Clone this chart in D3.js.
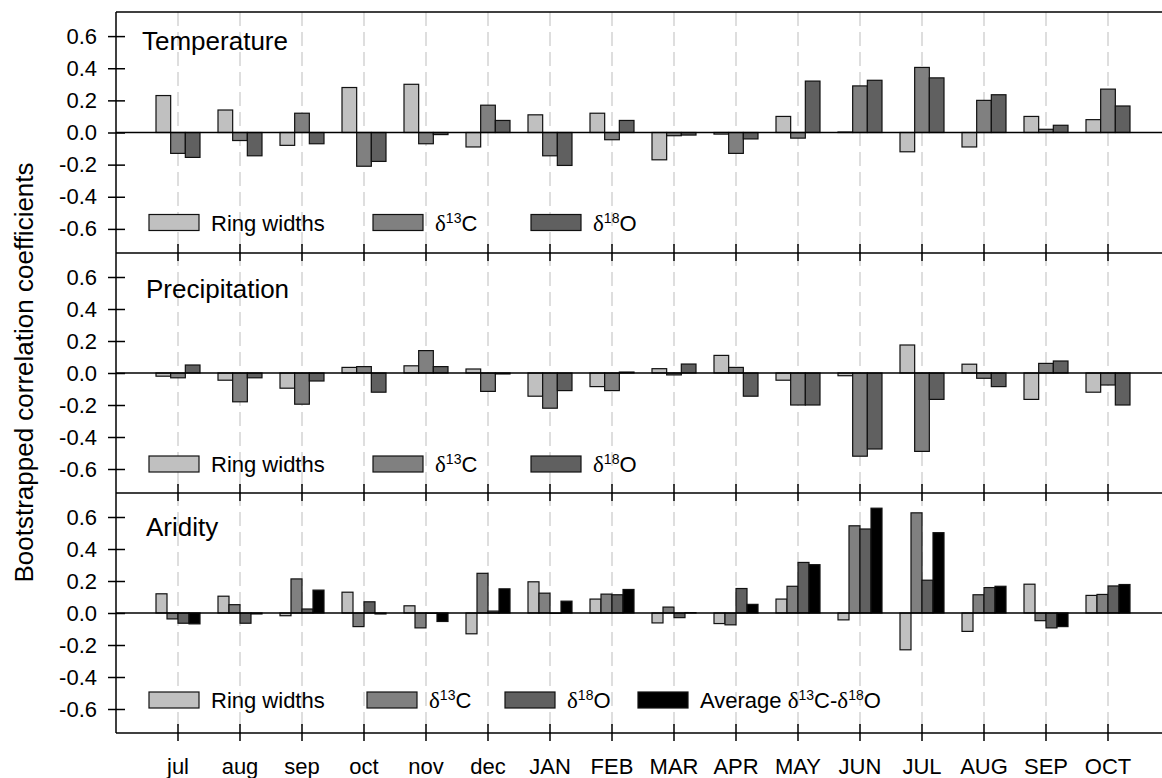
<!DOCTYPE html>
<html>
<head>
<meta charset="utf-8">
<script src="https://cdn.jsdelivr.net/npm/d3@7"></script>
<style>
  body { margin: 0; background: #fff; }
  svg { display: block; font-family: "Liberation Sans", Arial, sans-serif; }
</style>
</head>
<body>
<script>
// months on the x axis (previous year lower case, current year upper case)
const months = ["jul", "aug", "sep", "oct", "nov", "dec", "JAN", "FEB", "MAR", "APR", "MAY", "JUN", "JUL", "AUG", "SEP", "OCT"];

// y tick values, same for every panel
const yTicks = [-0.6, -0.4, -0.2, 0, 0.2, 0.4, 0.6];

// temperature correlations
const tempRing = [0.23, 0.14, -0.08, 0.28, 0.30, -0.09, 0.11, 0.12, -0.17, -0.01, 0.10, 0.003, -0.12, -0.09, 0.10, 0.08];
const tempC13 = [-0.13, -0.05, 0.12, -0.21, -0.07, 0.17, -0.145, -0.045, -0.02, -0.13, -0.035, 0.29, 0.405, 0.20, 0.02, 0.27];
const tempO18 = [-0.155, -0.145, -0.07, -0.18, -0.013, 0.075, -0.205, 0.075, -0.016, -0.04, 0.32, 0.325, 0.34, 0.235, 0.045, 0.165];

// precipitation correlations
const precRing = [-0.02, -0.045, -0.095, 0.035, 0.045, 0.025, -0.145, -0.085, 0.027, 0.11, -0.045, -0.017, 0.175, 0.055, -0.165, -0.12];
const precC13 = [-0.03, -0.18, -0.195, 0.04, 0.14, -0.115, -0.22, -0.11, -0.012, 0.035, -0.20, -0.52, -0.49, -0.033, 0.06, -0.075];
const precO18 = [0.05, -0.03, -0.05, -0.12, 0.04, -0.006, -0.11, 0.006, 0.056, -0.145, -0.20, -0.475, -0.165, -0.085, 0.075, -0.20];

// aridity correlations
const aridRing = [0.12, 0.105, -0.017, 0.13, 0.045, -0.13, 0.195, 0.087, -0.062, -0.066, 0.087, -0.043, -0.23, -0.115, 0.18, 0.11];
const aridC13 = [-0.037, 0.052, 0.213, -0.085, -0.093, 0.248, 0.124, 0.118, 0.037, -0.074, 0.167, 0.545, 0.626, 0.114, -0.048, 0.116];
const aridO18 = [-0.064, -0.064, 0.025, 0.07, -0.002, 0.012, -0.002, 0.114, -0.029, 0.153, 0.316, 0.525, 0.205, 0.159, -0.093, 0.169];
const aridAvg = [-0.068, -0.006, 0.143, -0.006, -0.053, 0.151, 0.074, 0.147, 0.002, 0.054, 0.302, 0.655, 0.502, 0.167, -0.085, 0.178];

// legend labels, split into parts so the delta and superscripts can be styled
const labelRing = [{ t: "Ring widths" }];
const labelC13 = [{ t: "δ", serif: true }, { t: "13", sup: true }, { t: "C" }];
const labelO18 = [{ t: "δ", serif: true }, { t: "18", sup: true }, { t: "O" }];
const labelAvg = [{ t: "Average " }, { t: "δ", serif: true }, { t: "13", sup: true }, { t: "C-" },
                  { t: "δ", serif: true }, { t: "18", sup: true }, { t: "O" }];

// bar fill colours
const FILL_RING = "#c0c0c0";
const FILL_C13 = "#808080";
const FILL_O18 = "#606060";
const FILL_AVG = "#000000";

// page / plot layout
const W = 1162, H = 778;
const PLOT_LEFT = 116;
const STEP = 62;
const GROUP_W = 44;
const TICK = 8;

const panels = [
    {
        title: "Temperature", top: 12, bottom: 253, titleX: 142, titleY: 50, legendDy: 82, labels: false,
        series: [
            { values: tempRing, fill: FILL_RING, label: labelRing, lx: 149 },
            { values: tempC13, fill: FILL_C13, label: labelC13, lx: 373 },
            { values: tempO18, fill: FILL_O18, label: labelO18, lx: 531 }
        ]
    },
    {
        title: "Precipitation", top: 253, bottom: 493, titleX: 146, titleY: 298, legendDy: 83, labels: false,
        series: [
            { values: precRing, fill: FILL_RING, label: labelRing, lx: 149 },
            { values: precC13, fill: FILL_C13, label: labelC13, lx: 373 },
            { values: precO18, fill: FILL_O18, label: labelO18, lx: 531 }
        ]
    },
    {
        title: "Aridity", top: 493, bottom: 733, titleX: 146, titleY: 536, legendDy: 79, labels: true,
        series: [
            { values: aridRing, fill: FILL_RING, label: labelRing, lx: 149 },
            { values: aridC13, fill: FILL_C13, label: labelC13, lx: 367 },
            { values: aridO18, fill: FILL_O18, label: labelO18, lx: 505 },
            { values: aridAvg, fill: FILL_AVG, label: labelAvg, lx: 638 }
        ]
    }
];

// tick label format with a plain hyphen for negatives
const fmt = v => (v < 0 ? "-" : "") + Math.abs(v).toFixed(1);

// write a label made of parts into a <text> element
const writeLabel = (text, parts) => {
    let raised = false;
    parts.forEach(p => {
        const ts = text.append("tspan").text(p.t);
        if (p.serif) ts.style("font-family", "'Liberation Serif', 'Times New Roman', serif").attr("font-size", 23);
        if (p.sup) {
            ts.attr("font-size", 14).attr("dy", -8);
            raised = true;
        } else if (raised) {
            ts.attr("dy", 8);
            raised = false;
        }
    });
};

const svg = d3.select("body").append("svg")
    .attr("width", W)
    .attr("height", H);

// month bands
const x = d3.scaleBand()
    .domain(months)
    .range([PLOT_LEFT + STEP / 2, PLOT_LEFT + STEP / 2 + STEP * months.length]);

const firstTop = panels[0].top;
const lastBottom = panels[panels.length - 1].bottom;

// dashed vertical month lines behind everything
svg.append("g")
    .selectAll("line")
    .data(months)
    .join("line")
    .attr("x1", d => x(d) + x.bandwidth() / 2)
    .attr("x2", d => x(d) + x.bandwidth() / 2)
    .attr("y1", firstTop)
    .attr("y2", lastBottom)
    .attr("stroke", "#c8c8c8")
    .attr("stroke-width", 1.2)
    .attr("stroke-dasharray", "14,6");

panels.forEach(p => {
    const y = d3.scaleLinear().domain([-0.75, 0.75]).range([p.bottom, p.top]);

    // bars inside a month
    const sub = d3.scaleBand()
        .domain(d3.range(p.series.length))
        .range([x.bandwidth() / 2 - GROUP_W / 2, x.bandwidth() / 2 + GROUP_W / 2]);

    const g = svg.append("g");

    p.series.forEach((s, si) => {
        g.append("g")
            .selectAll("rect")
            .data(s.values)
            .join("rect")
            .attr("x", (d, i) => x(months[i]) + sub(si))
            .attr("width", sub.bandwidth())
            .attr("y", d => y(Math.max(0, d)))
            .attr("height", d => Math.abs(y(d) - y(0)))
            .attr("fill", s.fill)
            .attr("stroke", "#111")
            .attr("stroke-width", 1.2);
    });

    // zero line
    g.append("line")
        .attr("x1", PLOT_LEFT).attr("x2", W)
        .attr("y1", y(0)).attr("y2", y(0))
        .attr("stroke", "#000").attr("stroke-width", 1.5);

    // panel title
    g.append("text")
        .attr("x", p.titleX)
        .attr("y", p.titleY)
        .attr("font-size", 26)
        .text(p.title);

    // legend
    const ly = y(0) + p.legendDy;
    p.series.forEach(s => {
        g.append("rect")
            .attr("x", s.lx).attr("y", ly)
            .attr("width", 50).attr("height", 16)
            .attr("fill", s.fill)
            .attr("stroke", "#111")
            .attr("stroke-width", 1.2);
        const t = g.append("text")
            .attr("x", s.lx + 62)
            .attr("y", ly + 16)
            .attr("font-size", 22);
        writeLabel(t, s.label);
    });

    // y axis with ticks crossing the axis line
    const ya = svg.append("g")
        .attr("transform", `translate(${PLOT_LEFT},0)`)
        .call(d3.axisLeft(y).tickValues(yTicks).tickSize(TICK).tickPadding(11).tickFormat(fmt));
    ya.select(".domain").remove();
    ya.selectAll(".tick line").attr("x1", TICK + 1).attr("stroke-width", 1.5);
    ya.selectAll(".tick text")
        .attr("font-size", 22)
        .attr("font-family", "'Liberation Sans', Arial, sans-serif")
        .attr("fill", "#000");

    // x axis ticks on the panel's bottom edge
    const xa = svg.append("g")
        .attr("transform", `translate(0,${p.bottom})`)
        .call(d3.axisBottom(x).tickSize(TICK).tickPadding(0).tickFormat(p.labels ? d => d : () => ""));
    xa.select(".domain").remove();
    xa.selectAll(".tick line").attr("y1", -TICK - 1).attr("stroke-width", 1.5);
    xa.selectAll(".tick text")
        .attr("y", 41)
        .attr("dy", 0)
        .attr("font-size", 22)
        .attr("font-family", "'Liberation Sans', Arial, sans-serif")
        .attr("fill", "#000");
});

// frame: left axis and horizontal panel edges
svg.append("line")
    .attr("x1", PLOT_LEFT).attr("x2", PLOT_LEFT)
    .attr("y1", firstTop).attr("y2", lastBottom)
    .attr("stroke", "#000").attr("stroke-width", 1.5);

const edges = [firstTop].concat(panels.map(p => p.bottom));
svg.append("g")
    .selectAll("line")
    .data(edges)
    .join("line")
    .attr("x1", PLOT_LEFT).attr("x2", W)
    .attr("y1", d => d).attr("y2", d => d)
    .attr("stroke", "#000").attr("stroke-width", 1.5);

// y axis title
svg.append("text")
    .attr("transform", `translate(33,${(firstTop + lastBottom) / 2}) rotate(-90)`)
    .attr("text-anchor", "middle")
    .attr("font-size", 26)
    .text("Bootstrapped correlation coefficients");
</script>
</body>
</html>
